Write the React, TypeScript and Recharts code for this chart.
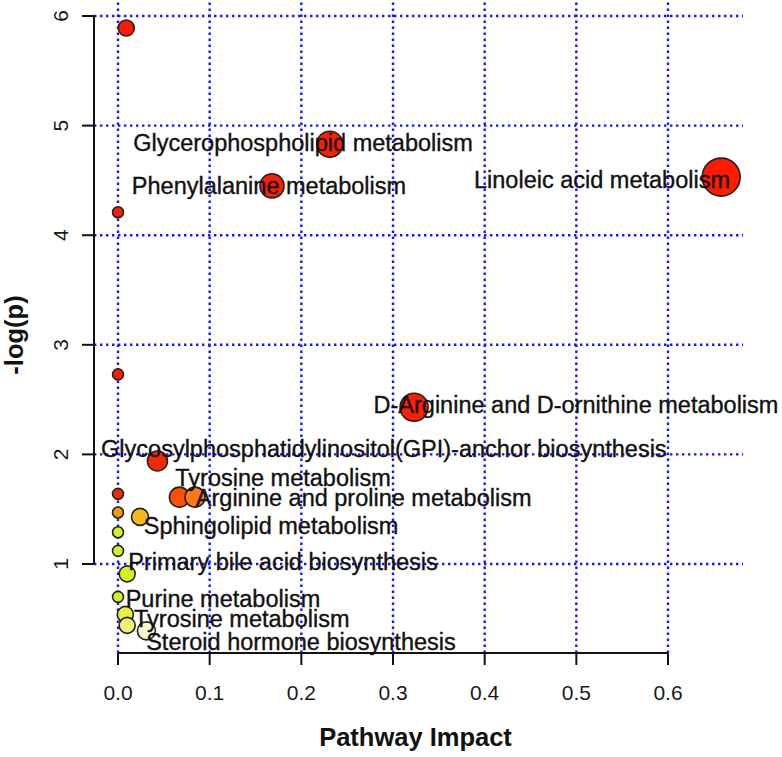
import React from 'react'
import {
  Cell,
  ReferenceLine,
  Scatter,
  ScatterChart,
  XAxis,
  YAxis,
  ZAxis,
} from 'recharts'

const FONT = '"Liberation Sans", Arial, Helvetica, sans-serif'

// One entry per pathway node: impact (x), -log(p) (y) and node weight (bubble area).
const impact = [0.009, 0.231, 0.168, 0.658, 0, 0, 0.323, 0.043, 0.067, 0.084, 0, 0, 0.024, 0, 0, 0.01, 0, 0.008, 0.01, 0.031]
const logP = [5.89, 4.83, 4.45, 4.53, 4.21, 2.73, 2.43, 1.94, 1.61, 1.61, 1.64, 1.47, 1.43, 1.29, 1.12, 0.91, 0.7, 0.54, 0.44, 0.39]
const nodeWeight = [64, 169, 144, 361, 30, 30, 196, 100, 100, 100, 30, 30, 72, 30, 30, 64, 30, 64, 64, 81]

// Fill of each node (heat colours, by p-value).
const nodeColors = [
  '#ff1a00', '#ff1e00', '#ff1e00', '#ff1a00', '#ff1a00', '#ff1a00', '#ff1e00', '#f52a00',
  '#ff5000', '#ff7812', '#f52800', '#f29a14', '#f5b818', '#d6f024', '#d2f02c', '#d8f024',
  '#d2f02c', '#e6f046', '#eef07a', '#f8f8d0',
]

// Pathway names and where R placed their text (data units).
const labelNames = [
  'Glycerophospholipid metabolism',
  'Phenylalanine metabolism',
  'Linoleic acid metabolism',
  'D-Arginine and D-ornithine metabolism',
  'Glycosylphosphatidylinositol(GPI)-anchor biosynthesis',
  'Tyrosine metabolism',
  'Arginine and proline metabolism',
  'Sphingolipid metabolism',
  'Primary bile acid biosynthesis',
  'Purine metabolism',
  'Tyrosine metabolism',
  'Steroid hormone biosynthesis',
]
const labelX = [0.2018, 0.1647, 0.528, 0.4996, 0.29, 0.18, 0.268, 0.167, 0.18, 0.1145, 0.135, 0.1996]
const labelY = [4.85, 4.45, 4.504, 2.451, 2.058, 1.785, 1.602, 1.347, 1.018, 0.681, 0.498, 0.288]

const xTicks = [0, 0.1, 0.2, 0.3, 0.4, 0.5, 0.6]
const yTicks = [1, 2, 3, 4, 5, 6]

const X_DOMAIN: [number, number] = [-0.0262, 0.6818]
const Y_DOMAIN: [number, number] = [0.188, 6.146]

const nodes = impact.map((x, i) => ({ x, y: logP[i], z: nodeWeight[i] }))
const labels = labelNames.map((name, i) => ({ x: labelX[i], y: labelY[i], z: 0, name }))

const gridStyle = { stroke: '#1515ff', strokeWidth: 2.4, strokeDasharray: '2.4 3.6' }

function XTick({ x, y, payload }: any) {
  return (
    <text x={x} y={y + 33} textAnchor="middle" fontSize={21} fill="#1a1a1a" fontFamily={FONT}>
      {Number(payload.value).toFixed(1)}
    </text>
  )
}

function YTick({ x, y, payload }: any) {
  const bx = x - 12
  return (
    <text
      x={bx}
      y={y}
      transform={`rotate(-90 ${bx} ${y})`}
      textAnchor="middle"
      fontSize={21}
      fill="#1a1a1a"
      fontFamily={FONT}
    >
      {payload.value}
    </text>
  )
}

function LabelShape({ cx, cy, payload }: any) {
  return (
    <text
      x={cx}
      y={cy}
      dy="0.36em"
      textAnchor="middle"
      fontSize={23.5}
      fill="#111"
      stroke="#111"
      strokeWidth={0.35}
      fontFamily={FONT}
    >
      {payload.name}
    </text>
  )
}

export default function App() {
  return (
    <div style={{ position: 'absolute', left: 0, top: 0, background: '#fff' }}>
      <ScatterChart width={782} height={757} margin={{ top: 0, right: 39, bottom: 0, left: 0 }}>
        <XAxis
          type="number"
          dataKey="x"
          domain={X_DOMAIN}
          ticks={xTicks}
          height={104}
          axisLine={false}
          tickLine={{ stroke: '#111', strokeWidth: 2 }}
          tickSize={12}
          tickMargin={2}
          tick={<XTick />}
          interval={0}
          label={{
            content: ({ viewBox }: any) => (
              <text
                x={viewBox.x + viewBox.width / 2 - 3}
                y={746}
                textAnchor="middle"
                fontSize={25.5}
                fontWeight="bold"
                fill="#111"
                fontFamily={FONT}
              >
                Pathway Impact
              </text>
            ),
          }}
        />
        <YAxis
          type="number"
          dataKey="y"
          domain={Y_DOMAIN}
          ticks={yTicks}
          width={94}
          axisLine={false}
          tickLine={{ stroke: '#111', strokeWidth: 2 }}
          tickSize={12}
          tickMargin={2}
          tick={<YTick />}
          interval={0}
          label={{
            content: () => (
              <text
                x={23}
                y={335}
                transform="rotate(-90 23 335)"
                textAnchor="middle"
                fontSize={25.5}
                fontWeight="bold"
                fill="#111"
                fontFamily={FONT}
              >
                -log(p)
              </text>
            ),
          }}
        />
        <ZAxis type="number" dataKey="z" domain={[0, 400]} range={[0, 400 * Math.PI]} />
        {xTicks.map((t) => (
          <ReferenceLine key={`gx${t}`} x={t} {...gridStyle} />
        ))}
        {yTicks.map((t) => (
          <ReferenceLine key={`gy${t}`} y={t} {...gridStyle} />
        ))}
        <ReferenceLine
          segment={[{ x: 0, y: Y_DOMAIN[0] }, { x: 0.6, y: Y_DOMAIN[0] }]}
          stroke="#111"
          strokeWidth={2}
          ifOverflow="visible"
        />
        <ReferenceLine
          segment={[{ x: X_DOMAIN[0], y: 1 }, { x: X_DOMAIN[0], y: 6 }]}
          stroke="#111"
          strokeWidth={2}
          ifOverflow="visible"
        />
        <Scatter data={nodes} shape="circle" stroke="#222" strokeWidth={1.6} isAnimationActive={false}>
          {nodes.map((_, i) => (
            <Cell key={i} fill={nodeColors[i]} />
          ))}
        </Scatter>
        <Scatter data={labels} shape={<LabelShape />} isAnimationActive={false} />
      </ScatterChart>
    </div>
  )
}
